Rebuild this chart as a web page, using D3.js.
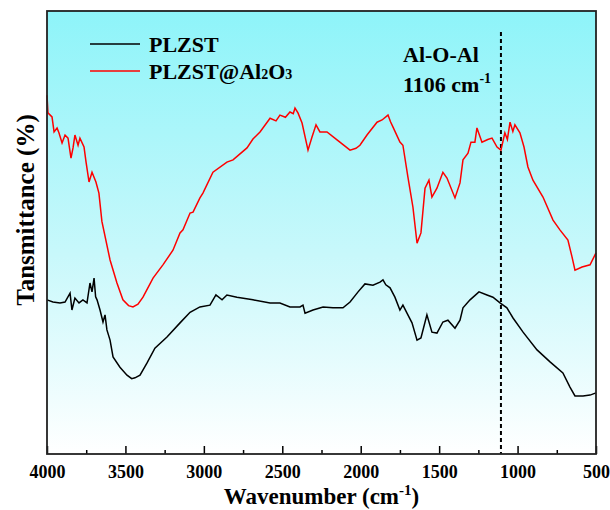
<!DOCTYPE html>
<html>
<head>
<meta charset="utf-8">
<script src="https://cdn.jsdelivr.net/npm/d3@7"></script>
<style>
  body { margin: 0; background: #fff; }
  text { font-family: "Liberation Serif", "Times New Roman", serif; font-weight: bold; }
</style>
</head>
<body>
<div id="vis"></div>
<script>
// FTIR spectra
let seriesNames = ['PLZST', 'PLZST@Al2O3']
let seriesColors = ['#000000', '#ff0000']

let plzst = [
  [4000, 34.8], [3962, 34.3], [3917, 34.1], [3885, 34.3], [3853, 36.3], [3841, 32.5],
  [3822, 35.2], [3796, 34.1], [3771, 34.8], [3745, 34.1], [3726, 38.6], [3713, 36.6],
  [3700, 39.7], [3690, 35.5], [3681, 34.8], [3662, 32.5], [3643, 29.8], [3630, 31.4],
  [3618, 28.0], [3598, 25.7], [3579, 21.9], [3535, 19.6], [3490, 17.8], [3460, 17.0],
  [3439, 17.2], [3407, 17.8], [3363, 20.5], [3312, 23.9], [3235, 26.4], [3152, 29.6],
  [3088, 32.0], [3025, 33.2], [2961, 33.6], [2923, 35.9], [2884, 34.8], [2853, 35.9],
  [2789, 35.4], [2687, 34.8], [2578, 34.1], [2515, 34.1], [2451, 33.2], [2387, 33.2],
  [2368, 33.6], [2355, 31.8], [2304, 32.5], [2240, 33.2], [2177, 33.0], [2113, 33.0],
  [2068, 34.3], [2017, 36.6], [1973, 38.4], [1922, 38.1], [1877, 38.8], [1858, 39.3],
  [1840, 38.2], [1813, 37.5], [1782, 35.4], [1750, 32.5], [1731, 33.6], [1705, 31.8],
  [1673, 29.6], [1641, 25.7], [1616, 26.2], [1578, 31.4], [1546, 27.5], [1514, 27.3],
  [1476, 29.8], [1444, 30.2], [1399, 28.4], [1367, 30.2], [1348, 33.0], [1303, 34.8],
  [1246, 36.6], [1195, 35.9], [1157, 35.4], [1112, 34.1], [1068, 33.0], [1029, 30.7],
  [965, 27.5], [876, 23.5], [793, 20.8], [711, 18.3], [666, 15.1], [634, 13.1],
  [583, 13.1], [538, 13.3], [500, 13.8]
]

let plzstAl2o3 = [
  [4000, 81.0], [3994, 77.0], [3968, 76.1], [3955, 72.7], [3936, 73.6], [3924, 72.5],
  [3904, 70.2], [3885, 72.0], [3866, 71.3], [3847, 66.8], [3834, 69.1], [3822, 72.0],
  [3802, 69.7], [3790, 71.3], [3764, 69.3], [3751, 65.9], [3732, 61.4], [3713, 63.6],
  [3688, 61.4], [3669, 58.9], [3650, 52.5], [3598, 43.8], [3554, 38.6], [3516, 34.8],
  [3480, 33.5], [3452, 33.2], [3420, 33.8], [3388, 35.4], [3324, 39.7], [3261, 42.7],
  [3197, 46.0], [3152, 49.9], [3133, 50.6], [3088, 54.4], [3069, 54.6], [3025, 57.8],
  [3006, 58.9], [2942, 63.6], [2853, 65.9], [2814, 66.4], [2725, 69.1], [2687, 71.1],
  [2642, 72.7], [2578, 75.8], [2540, 75.2], [2515, 76.5], [2480, 76.0], [2451, 77.2],
  [2430, 76.8], [2419, 78.1], [2400, 77.0], [2374, 74.7], [2336, 68.6], [2311, 71.5],
  [2285, 74.3], [2260, 72.7], [2215, 72.7], [2151, 70.9], [2068, 68.6], [2030, 69.0],
  [2005, 69.7], [1960, 72.0], [1896, 74.9], [1864, 75.4], [1826, 76.5], [1810, 75.0],
  [1794, 73.8], [1750, 70.4], [1731, 69.7], [1699, 62.5], [1667, 55.7], [1641, 47.6],
  [1616, 49.9], [1590, 60.0], [1565, 61.8], [1546, 58.0], [1514, 60.0], [1476, 63.6],
  [1450, 62.3], [1399, 57.8], [1367, 61.2], [1348, 66.4], [1316, 67.9], [1297, 70.4],
  [1272, 70.4], [1259, 73.6], [1227, 70.4], [1190, 71.0], [1163, 71.3], [1131, 69.3],
  [1106, 68.6], [1081, 72.5], [1065, 71.0], [1048, 74.9], [1030, 72.8], [1017, 74.3],
  [985, 72.5], [959, 69.3], [934, 64.8], [902, 61.8], [838, 58.0], [774, 52.8],
  [730, 50.6], [679, 48.3], [653, 44.5], [634, 41.5], [589, 42.2], [538, 42.7],
  [500, 45.4]
]

let majorTicks = [4000, 3500, 3000, 2500, 2000, 1500, 1000, 500]
let minorTicks = [3750, 3250, 2750, 2250, 1750, 1250, 750]
let markerWavenumber = 1106

let margin = { top: 11, left: 47, right: 14, bottom: 56 },
  width = 610 - margin.left - margin.right,
  height = 510 - margin.top - margin.bottom

let svg = d3.select('#vis')
  .append('svg')
  .attr('width', 610)
  .attr('height', 510)

let defs = svg.append('defs')
let grad = defs.append('linearGradient')
  .attr('id', 'bg')
  .attr('x1', 0).attr('y1', 0).attr('x2', 0).attr('y2', 1)
grad.append('stop').attr('offset', '0%').attr('stop-color', '#8ef4f9')
grad.append('stop').attr('offset', '55%').attr('stop-color', '#c8f8fb')
grad.append('stop').attr('offset', '100%').attr('stop-color', '#ffffff')

let g = svg.append('g')
  .attr('transform', 'translate(' + margin.left + ',' + margin.top + ')')

let x = d3.scaleLinear().domain([4000, 500]).range([0, width])
let y = d3.scaleLinear().domain([0, 100]).range([height, 0])

g.append('rect')
  .attr('width', width)
  .attr('height', height)
  .attr('fill', 'url(#bg)')

// dashed marker line
g.append('line')
  .attr('x1', x(markerWavenumber)).attr('x2', x(markerWavenumber))
  .attr('y1', 21).attr('y2', height)
  .attr('stroke', '#000')
  .attr('stroke-width', 2)
  .attr('stroke-dasharray', '4,3')

let line = d3.line()
  .x(d => x(d[0]))
  .y(d => y(d[1]))

g.append('path')
  .datum(plzst)
  .attr('fill', 'none')
  .attr('stroke', seriesColors[0])
  .attr('stroke-width', 1.5)
  .attr('d', line)

g.append('path')
  .datum(plzstAl2o3)
  .attr('fill', 'none')
  .attr('stroke', seriesColors[1])
  .attr('stroke-width', 1.5)
  .attr('d', line)

// x axis, ticks point inward
let xAxis = g.append('g')
  .attr('transform', 'translate(0,' + height + ')')
  .call(d3.axisBottom(x).tickValues(majorTicks).tickSize(-8).tickPadding(11).tickFormat(d3.format('d')))
xAxis.select('.domain').remove()
xAxis.selectAll('line').attr('stroke', '#000').attr('stroke-width', 1.5)
xAxis.selectAll('text')
  .attr('fill', '#000')
  .style('font-size', '18px')

let xMinor = g.append('g')
  .attr('transform', 'translate(0,' + height + ')')
  .call(d3.axisBottom(x).tickValues(minorTicks).tickSize(-4).tickFormat(''))
xMinor.select('.domain').remove()
xMinor.selectAll('line').attr('stroke', '#000').attr('stroke-width', 1.5)

// frame
g.append('rect')
  .attr('width', width)
  .attr('height', height)
  .attr('fill', 'none')
  .attr('stroke', '#222')
  .attr('stroke-width', 1.8)

// legend
let legend = g.append('g')
seriesNames.forEach(function(name, i) {
  let ly = 33 + i * 27
  legend.append('line')
    .attr('x1', 43).attr('x2', 93)
    .attr('y1', ly).attr('y2', ly)
    .attr('stroke', seriesColors[i])
    .attr('stroke-width', 1.5)
  let t = legend.append('text')
    .attr('x', 102)
    .attr('y', ly + 8)
    .style('font-size', '22px')
  if (name === 'PLZST@Al2O3') {
    t.append('tspan').text('PLZST@Al')
    t.append('tspan').text('2').style('font-size', '14px')
    t.append('tspan').text('O')
    t.append('tspan').text('3').style('font-size', '14px')
  } else {
    t.text(name)
  }
})

// annotation
g.append('text')
  .attr('x', 356)
  .attr('y', 51)
  .style('font-size', '22px')
  .text('Al-O-Al')
let ann = g.append('text')
  .attr('x', 356)
  .attr('y', 81)
  .style('font-size', '22px')
ann.append('tspan').text('1106 cm')
ann.append('tspan').text('-1').attr('dy', -9).style('font-size', '14px')

// axis titles
let xt = svg.append('text')
  .attr('x', margin.left + width / 2)
  .attr('y', 504)
  .attr('text-anchor', 'middle')
  .style('font-size', '23px')
xt.append('tspan').text('Wavenumber (cm')
xt.append('tspan').text('-1').attr('dy', -9).style('font-size', '15px')
xt.append('tspan').text(')').attr('dy', 9)

svg.append('text')
  .attr('transform', 'translate(34,' + 210 + ') rotate(-90)')
  .attr('text-anchor', 'middle')
  .style('font-size', '25px')
  .text('Tansmittance (%)')
</script>
</body>
</html>
